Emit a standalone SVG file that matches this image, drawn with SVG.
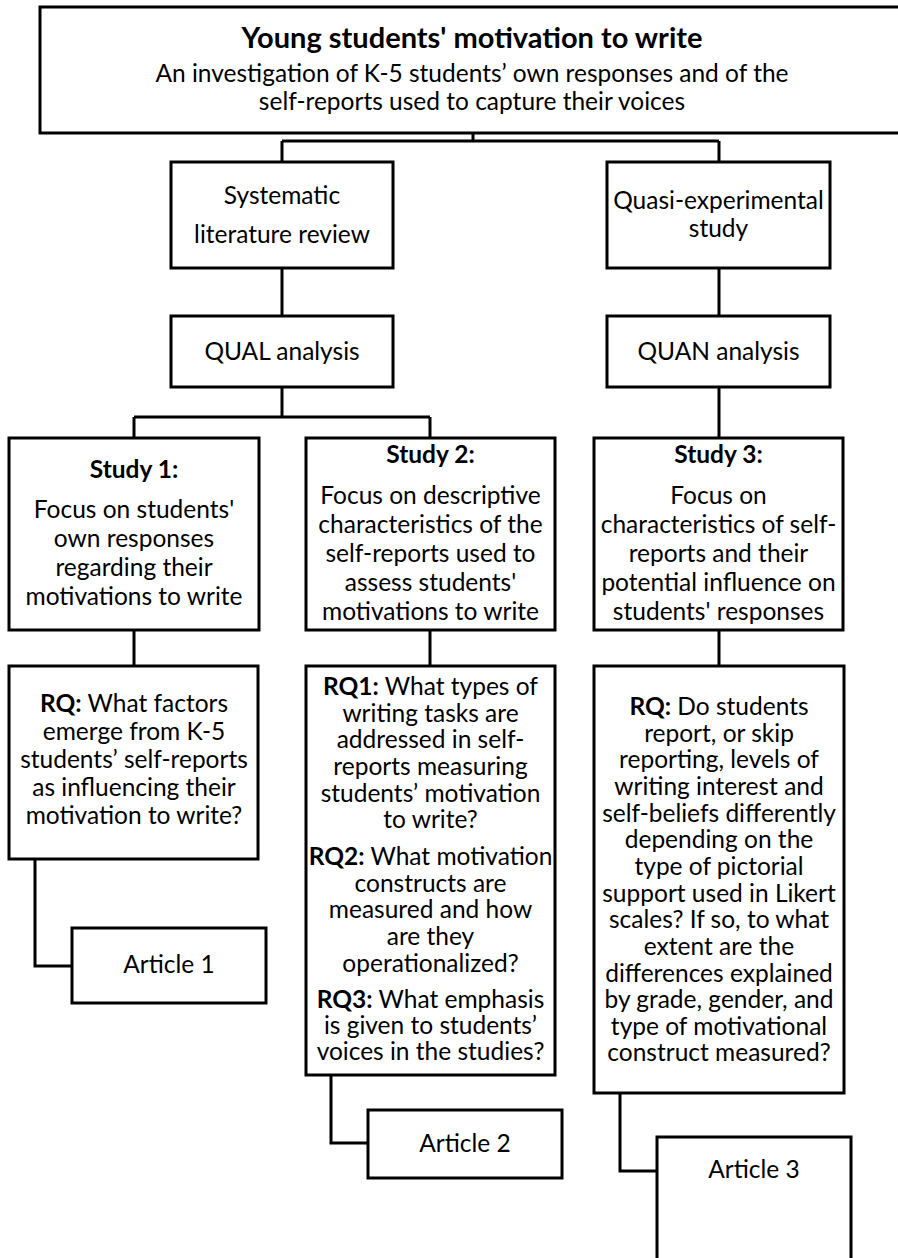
<svg xmlns="http://www.w3.org/2000/svg" width="898" height="1258" viewBox="0 0 898 1258">
  <style>
    .box { fill: #fff; stroke: #000; stroke-width: 3; }
    .link { fill: none; stroke: #000; stroke-width: 3; }
    text { font-family: Lato, "Open Sans", sans-serif; font-size: 24.5px; fill: #000; text-anchor: middle; }
    .b { font-weight: bold; }
    .title { font-size: 29px; font-weight: bold; }
  </style>
  <rect width="898" height="1258" fill="#fff"/>

  <!-- connectors -->
  <g id="connectors">
    <path class="link" d="M473 133 V141"/>
    <path class="link" d="M282 141 H719"/>
    <path class="link" d="M282 141 V162"/>
    <path class="link" d="M719 141 V162"/>
    <path class="link" d="M282 268 V316"/>
    <path class="link" d="M719 268 V316"/>
    <path class="link" d="M282 387 V417"/>
    <path class="link" d="M134 417 H430"/>
    <path class="link" d="M134 417 V438"/>
    <path class="link" d="M430 417 V438"/>
    <path class="link" d="M719 387 V438"/>
    <path class="link" d="M134 630 V666"/>
    <path class="link" d="M430 630 V666"/>
    <path class="link" d="M719 630 V666"/>
    <path class="link" d="M35 859 V966 H72"/>
    <path class="link" d="M331 1075 V1143 H368"/>
    <path class="link" d="M620 1093 V1171 H657"/>
  </g>

  <g id="title">
    <rect class="box" x="40" y="7" width="870" height="126"/>
    <text class="title" x="472" y="48">Young students' motivation to write</text>
    <text x="472" y="82">An investigation of K-5 students’ own responses and of the</text>
    <text x="472" y="110">self-reports used to capture their voices</text>
  </g>

  <g id="systematic-review">
    <rect class="box" x="171" y="162" width="222" height="106"/>
    <text x="282" y="204">Systematic</text>
    <text x="282" y="243">literature review</text>
  </g>

  <g id="quasi-experimental">
    <rect class="box" x="607" y="162" width="223" height="106"/>
    <text x="718.5" y="209">Quasi-experimental</text>
    <text x="718.5" y="237">study</text>
  </g>

  <g id="qual-analysis">
    <rect class="box" x="171" y="316" width="222" height="71"/>
    <text x="282" y="360">QUAL analysis</text>
  </g>

  <g id="quan-analysis">
    <rect class="box" x="607" y="316" width="223" height="71"/>
    <text x="718.5" y="360">QUAN analysis</text>
  </g>

  <g id="study1">
    <rect class="box" x="9" y="438" width="250" height="192"/>
    <text class="b" x="134" y="478">Study 1:</text>
    <text x="134" y="518">Focus on students'</text>
    <text x="134" y="547">own responses</text>
    <text x="134" y="576">regarding their</text>
    <text x="134" y="605">motivations to write</text>
  </g>

  <g id="study2">
    <rect class="box" x="306" y="438" width="249" height="192"/>
    <text class="b" x="430.5" y="463">Study 2:</text>
    <text x="430.5" y="504">Focus on descriptive</text>
    <text x="430.5" y="533">characteristics of the</text>
    <text x="430.5" y="562">self-reports used to</text>
    <text x="430.5" y="591">assess students'</text>
    <text x="430.5" y="620">motivations to write</text>
  </g>

  <g id="study3">
    <rect class="box" x="594" y="438" width="249" height="192"/>
    <text class="b" x="718.5" y="463">Study 3:</text>
    <text x="718.5" y="504">Focus on</text>
    <text x="718.5" y="533">characteristics of self-</text>
    <text x="718.5" y="562">reports and their</text>
    <text x="718.5" y="591">potential influence on</text>
    <text x="718.5" y="620">students' responses</text>
  </g>

  <g id="rq-study1">
    <rect class="box" x="9" y="666" width="249" height="193"/>
    <text x="134" y="712"><tspan class="b">RQ:</tspan> What factors</text>
    <text x="134" y="740">emerge from K-5</text>
    <text x="134" y="768">students’ self-reports</text>
    <text x="134" y="796">as influencing their</text>
    <text x="134" y="824">motivation to write?</text>
  </g>

  <g id="rq-study2">
    <rect class="box" x="306" y="666" width="249" height="409"/>
    <text x="430.5" y="695"><tspan class="b">RQ1:</tspan> What types of</text>
    <text x="430.5" y="722">writing tasks are</text>
    <text x="430.5" y="748">addressed in self-</text>
    <text x="430.5" y="775">reports measuring</text>
    <text x="430.5" y="802">students’ motivation</text>
    <text x="430.5" y="828">to write?</text>
    <text x="430.5" y="865"><tspan class="b">RQ2:</tspan> What motivation</text>
    <text x="430.5" y="892">constructs are</text>
    <text x="430.5" y="918">measured and how</text>
    <text x="430.5" y="945">are they</text>
    <text x="430.5" y="972">operationalized?</text>
    <text x="430.5" y="1008"><tspan class="b">RQ3:</tspan> What emphasis</text>
    <text x="430.5" y="1034">is given to students’</text>
    <text x="430.5" y="1060">voices in the studies?</text>
  </g>

  <g id="rq-study3">
    <rect class="box" x="594" y="666" width="250" height="427"/>
    <text x="719" y="715"><tspan class="b">RQ:</tspan> Do students</text>
    <text x="719" y="742">report, or skip</text>
    <text x="719" y="768">reporting, levels of</text>
    <text x="719" y="795">writing interest and</text>
    <text x="719" y="822">self-beliefs differently</text>
    <text x="719" y="848">depending on the</text>
    <text x="719" y="875">type of pictorial</text>
    <text x="719" y="902">support used in Likert</text>
    <text x="719" y="928">scales? If so, to what</text>
    <text x="719" y="955">extent are the</text>
    <text x="719" y="982">differences explained</text>
    <text x="719" y="1008">by grade, gender, and</text>
    <text x="719" y="1035">type of motivational</text>
    <text x="719" y="1061">construct measured?</text>
  </g>

  <g id="article1">
    <rect class="box" x="72" y="928" width="194" height="75"/>
    <text x="169" y="973">Article 1</text>
  </g>

  <g id="article2">
    <rect class="box" x="368" y="1110" width="194" height="68"/>
    <text x="465" y="1152">Article 2</text>
  </g>

  <g id="article3">
    <rect class="box" x="657" y="1137" width="194" height="130"/>
    <text x="754" y="1178">Article 3</text>
  </g>
</svg>
